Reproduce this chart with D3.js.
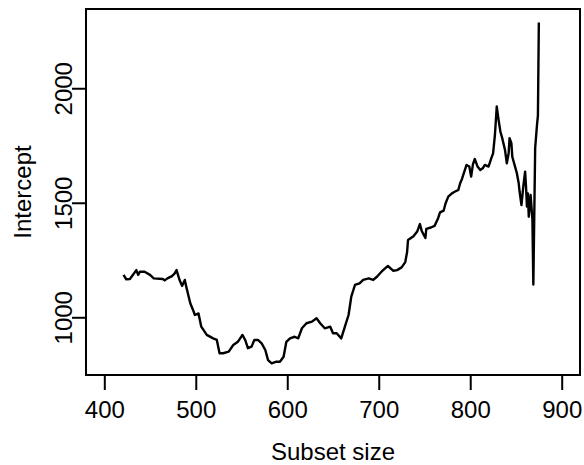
<!DOCTYPE html>
<html>
<head>
<meta charset="utf-8">
<script src="https://cdn.jsdelivr.net/npm/d3@7"></script>
<style>
  html, body { margin: 0; padding: 0; background: #fff; }
  svg { display: block; }
  text { font-family: "Liberation Sans", Arial, sans-serif; fill: #000; }
</style>
</head>
<body>
<svg id="chart" width="584" height="465"></svg>
<script>
const subsetSize = [421,424,428,432,435,437,439,444,450,454,464,466,469,474,477,479,482,485,488,490,494,497,499,503,506,512,519,523,526,530,536,541,546,551,554,557,561,564,568,572,576,579,583,588,592,596,599,603,608,612,616,621,627,632,636,641,647,650,654,659,663,667,670,674,679,683,689,694,698,703,710,716,720,725,729,731,732,738,742,745,747,751,752,757,761,765,767,771,773,776,780,783,787,789,791,793,796,799,801,803,805,808,811,814,816,820,823,825,827,829,831,833,835,838,840,842,843,845,846,849,851,853,854,856,858,860,861,862,863,864,866,868,869,871,873,874,875];
const intercept = [1185,1166,1167,1189,1206,1185,1199,1199,1185,1170,1167,1161,1170,1180,1192,1206,1166,1137,1163,1127,1061,1032,1010,1017,959,923,908,901,843,843,850,879,893,923,901,865,872,901,901,886,857,813,799,806,806,828,893,908,915,908,952,974,981,996,974,952,959,930,930,908,959,1010,1090,1141,1148,1163,1170,1163,1177,1199,1224,1203,1206,1218,1241,1285,1337,1354,1374,1407,1377,1346,1386,1392,1399,1434,1458,1466,1497,1527,1541,1548,1556,1585,1604,1629,1665,1658,1614,1669,1691,1658,1643,1652,1665,1658,1694,1716,1796,1920,1862,1810,1782,1731,1672,1716,1782,1760,1701,1658,1629,1585,1548,1490,1570,1636,1570,1483,1541,1439,1534,1425,1143,1740,1840,1880,2287];
const xTicks = [400,500,600,700,800,900];
const yTicks = [1000,1500,2000];

const svg = d3.select("#chart");
const L = 86, T = 9, R = 580, B = 375;
const x = d3.scaleLinear().domain([380, 920]).range([L, R]);
const y = d3.scaleLinear().domain([748, 2346]).range([B, T]);
const fs = 24;

// X axis
const gx = svg.append("g").attr("transform", `translate(0,${B})`)
  .call(d3.axisBottom(x).tickValues(xTicks).tickSize(15).tickFormat(d3.format("d")));
gx.select(".domain").remove();
gx.selectAll(".tick line").attr("stroke", "#000").attr("stroke-width", 2);
gx.selectAll(".tick text").attr("dy", 0).attr("y", 43)
  .style("font-size", fs + "px").style("font-family", "Liberation Sans, Arial, sans-serif");

// Y axis
const gy = svg.append("g").attr("transform", `translate(${L},0)`)
  .call(d3.axisLeft(y).tickValues(yTicks).tickSize(14).tickFormat(d3.format("d")));
gy.select(".domain").remove();
gy.selectAll(".tick line").attr("stroke", "#000").attr("stroke-width", 2);
gy.selectAll(".tick text")
  .attr("x", null).attr("dy", 0)
  .attr("text-anchor", "middle")
  .attr("transform", "translate(-14.5,0) rotate(-90)")
  .style("font-size", fs + "px").style("font-family", "Liberation Sans, Arial, sans-serif");

// Line
const line = d3.line().x((d, i) => x(subsetSize[i])).y(d => y(d));
svg.append("path").datum(intercept)
  .attr("d", line)
  .attr("fill", "none").attr("stroke", "#000")
  .attr("stroke-width", 2.4).attr("stroke-linejoin", "round");

// Box
svg.append("rect").attr("x", L).attr("y", T).attr("width", R - L).attr("height", B - T)
  .attr("fill", "none").attr("stroke", "#000").attr("stroke-width", 2);

// Axis titles
svg.append("text").attr("x", (L + R) / 2).attr("y", 460)
  .attr("text-anchor", "middle").style("font-size", fs + "px").text("Subset size");
svg.append("text").attr("transform", `translate(31,${(T + B) / 2}) rotate(-90)`)
  .attr("text-anchor", "middle").style("font-size", fs + "px").text("Intercept");
</script>
</body>
</html>
